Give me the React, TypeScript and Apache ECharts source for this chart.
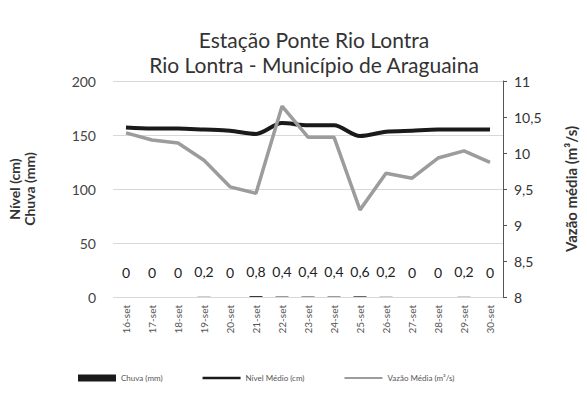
import React, { useEffect, useRef } from "react";
import * as echarts from "echarts";

const categories = ["16-set","17-set","18-set","19-set","20-set","21-set","22-set","23-set","24-set","25-set","26-set","27-set","28-set","29-set","30-set"];
const chuva = [0, 0, 0, 0.2, 0, 0.8, 0.4, 0.4, 0.4, 0.6, 0.2, 0, 0, 0.2, 0];
const nivel = [157, 156, 156, 155, 154, 151, 161, 159, 159, 149, 153, 154, 155, 155, 155];
const vazao = [10.28, 10.18, 10.14, 9.9, 9.53, 9.44, 10.65, 10.22, 10.22, 9.21, 9.72, 9.65, 9.93, 10.03, 9.87];
const leftTicks = { min: 0, max: 200, interval: 50 };
const rightTicks = { min: 8, max: 11, interval: 0.5 };

const FONT = "Lato, 'Open Sans', sans-serif";

export default function App() {
  const ref = useRef<HTMLDivElement>(null);
  useEffect(() => {
    if (!ref.current) return;
    const chart = echarts.init(ref.current, null, { renderer: "svg" });
    chart.setOption({
      animation: false,
      backgroundColor: "#ffffff",
      textStyle: { fontFamily: FONT },
      title: {
        text: "Estação Ponte Rio Lontra\nRio Lontra - Município de Araguaina",
        left: 309,
        textAlign: "center",
        top: 22,
        textStyle: { fontSize: 21, fontWeight: "normal", color: "#333", lineHeight: 25, fontFamily: FONT },
      },
      grid: { left: 113, right: 84, top: 81, bottom: 104, outerBoundsMode: "none" },
      legend: {
        bottom: 14,
        left: 73,
        itemGap: 40,
        itemWidth: 38,
        itemHeight: 7,
        textStyle: { fontSize: 8, color: "#555", fontFamily: FONT },
        data: [
          { name: "Chuva (mm)", icon: "rect" },
          { name: "Nível Médio (cm)", icon: "path://M0,0M0,7M0,2.3H40V4.7H0Z" },
          { name: "Vazão Média (m³/s)", icon: "path://M0,0M0,7M0,2.5H40V4.5H0Z" },
        ],
      },
      xAxis: {
        type: "category",
        data: categories,
        boundaryGap: true,
        axisLine: { show: false },
        axisTick: { show: false },
        axisLabel: { rotate: 90, fontSize: 10, color: "#555", margin: 8 },
      },
      yAxis: [
        {
          type: "value",
          ...leftTicks,
          name: "Nível (cm)\nChuva (mm)",
          nameLocation: "middle",
          nameRotate: 90,
          nameGap: 76,
          nameTextStyle: { fontWeight: "bold", fontSize: 14, color: "#333", lineHeight: 15 },
          axisLine: { show: false },
          axisTick: { show: false },
          axisLabel: { fontSize: 14, color: "#444", margin: 17 },
          splitLine: { lineStyle: { color: "#d8d8d8" } },
        },
        {
          type: "value",
          ...rightTicks,
          position: "right",
          name: "Vazão média (m³/s)",
          nameLocation: "middle",
          nameRotate: 90,
          nameGap: 60,
          nameTextStyle: { fontWeight: "bold", fontSize: 15, color: "#333" },
          axisLine: { show: true, lineStyle: { color: "#555" } },
          axisTick: { show: true, length: 4, lineStyle: { color: "#555" } },
          axisLabel: { fontSize: 14, color: "#333", margin: 11, formatter: (v: number) => String(v).replace(".", ",") },
          splitLine: { show: false },
        },
      ],
      series: [
        {
          name: "Chuva (mm)",
          type: "bar",
          yAxisIndex: 0,
          data: chuva,
          itemStyle: { color: "#1a1a1a" },
          barWidth: "50%",
          label: {
            show: true,
            position: "top",
            distance: 18,
            fontSize: 14,
            color: "#222",
            formatter: (p: any) => String(p.value).replace(".", ","),
          },
        },
        {
          name: "Nível Médio (cm)",
          type: "line",
          yAxisIndex: 0,
          data: nivel,
          symbol: "none",
          smooth: 0.3,
          lineStyle: { color: "#1a1a1a", width: 4 },
          itemStyle: { color: "#1a1a1a" },
        },
        {
          name: "Vazão Média (m³/s)",
          type: "line",
          yAxisIndex: 1,
          data: vazao,
          symbol: "none",
          lineStyle: { color: "#9c9c9c", width: 3.5 },
          itemStyle: { color: "#9c9c9c" },
        },
      ],
    });
    return () => chart.dispose();
  }, []);
  return <div ref={ref} style={{ width: 587, height: 401, position: "absolute", left: 0, top: 0 }} />;
}
